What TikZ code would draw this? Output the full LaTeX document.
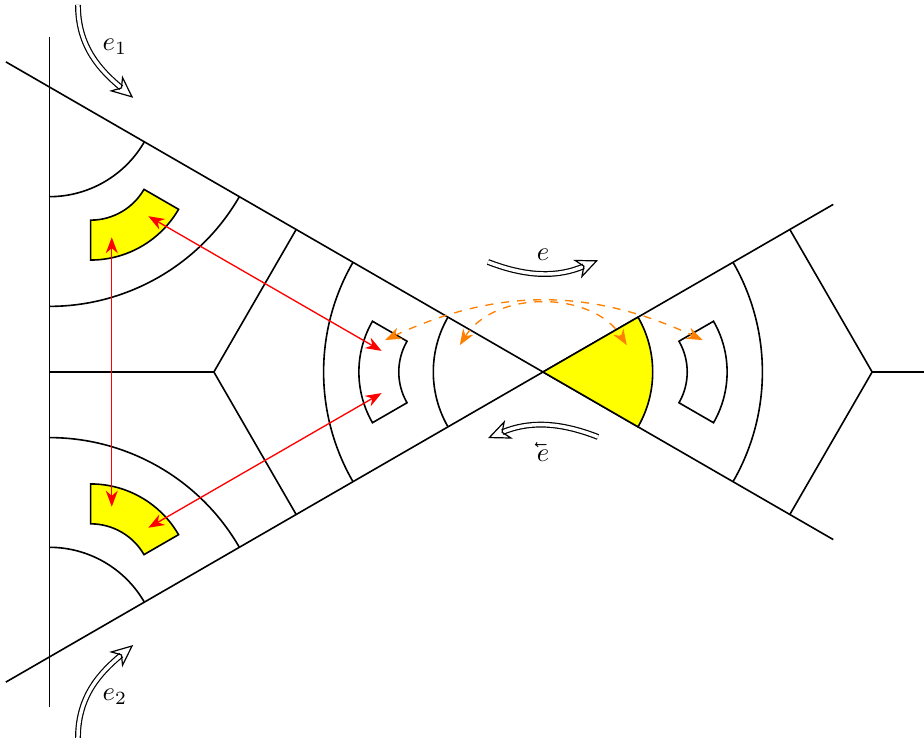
\documentclass[tikz,border=0pt]{standalone}
\usepackage{graphicx}
\usepackage{tikz}
\usetikzlibrary{arrows.meta, calc}
\definecolor{sectorYellow}{RGB}{255,255,0}
\definecolor{swapOrange}{RGB}{255,128,0}

\begin{document}
\begin{tikzpicture}[x=0.75cm, y=0.75cm,
    edge/.style={line width=0.6pt},
    sector/.style={draw, line width=0.6pt},
    link/.style={{Stealth[length=6pt]}-{Stealth[length=6pt]}, red, line width=0.5pt},
    swap/.style={{Stealth[length=6pt]}-{Stealth[length=6pt]}, swapOrange, dashed, line width=0.5pt},
    flow/.style={double, double distance=1.3pt, line width=0.45pt,
                 -{Stealth[open, length=8.5pt, width=7.5pt, inset=2.5pt]}}
  ]
\useasboundingbox (-9.526,-6.51) rectangle (6.684,6.526);
\def\rr{1.9245}

% vertices and centres
\coordinate (O)  at (0,0);
\coordinate (V1) at (-8.66,5);
\coordinate (V2) at (-8.66,-5);
\coordinate (IL) at (-5.774,0);
\coordinate (IR) at (5.774,0);
\coordinate (C1) at (-7.935,3.744);
\coordinate (C2) at (-7.935,-3.744);
\coordinate (C3) at (-1.45,0);
\coordinate (C4) at (1.45,0);

% triangle lines
\draw[edge] (-8.66,5.88) -- (-8.66,-5.88);
\draw[edge] (150:10.88) -- (-30:5.88);
\draw[edge] (210:10.88) -- (30:5.88);
\draw[edge] (-8.66,0) -- (IL) -- (-4.33,2.5);
\draw[edge] (IL) -- (-4.33,-2.5);
\draw[edge] (6.684,0) -- (IR) -- (4.33,2.5);
\draw[edge] (IR) -- (4.33,-2.5);

% arcs
\foreach \c/\a in {V1/-90, V2/30, O/150}
  \foreach \r in {1,2}
    \draw[edge] (\c) ++(\a:\r*\rr) arc[start angle=\a, delta angle=60, radius=\r*\rr];
\draw[edge] (O) ++(-30:2*\rr) arc[start angle=-30, delta angle=60, radius=2*\rr];
\draw[sector, fill=sectorYellow] (O) -- (-30:\rr) arc[start angle=-30, delta angle=60, radius=\rr] -- cycle;

% small sectors
\foreach \c/\a/\col in {C1/-90/sectorYellow, C2/30/sectorYellow, C3/150/white, C4/-30/white}
  \draw[sector, fill=\col] ($(\c)+(\a:1.08)$) arc[start angle=\a, delta angle=60, radius=1.08]
    -- ($(\c)+(\a+60:1.78)$) arc[start angle=\a+60, delta angle=-60, radius=1.78] -- cycle;

% end points
\coordinate (a1) at ($(C1)+(-75:1.43)$);
\coordinate (a2) at ($(C1)+(-45:1.43)$);
\coordinate (b1) at ($(C2)+(75:1.43)$);
\coordinate (b2) at ($(C2)+(45:1.43)$);
\coordinate (c1) at ($(C3)+(165:1.43)$);
\coordinate (c2) at ($(C3)+(195:1.43)$);
\coordinate (q1) at (-2.77,0.56);
\coordinate (q2) at (2.80,0.56);
\coordinate (q3) at (-1.46,0.47);
\coordinate (q4) at (1.47,0.47);

\draw[link] (a1) -- (b1);
\draw[link] (a2) -- (c1);
\draw[link] (b2) -- (c2);
\draw[swap] (q1) to[bend left=25] (q2);
\draw[swap] (q3) to[bend left=58] (q4);

% moves
\coordinate (f1s) at (-8.158,6.44);
\coordinate (f1e) at (-7.19,4.81);
\coordinate (f2s) at (-8.158,-6.42);
\coordinate (f2e) at (-7.19,-4.79);
\coordinate (gs) at (-0.965,1.93);
\coordinate (ge) at (0.965,1.96);
\coordinate (hs) at (0.965,-1.14);
\coordinate (he) at (-0.965,-1.16);
\draw[flow] (f1s) to[out=-90, in=140] (f1e);
\draw[flow] (f2s) to[out=90, in=-140] (f2e);
\draw[flow] (gs) to[bend right=22] (ge);
\draw[flow] (hs) to[bend right=22] (he);
\node (l1) at (-7.51,5.70) {$e_1$};
\node (l2) at (-7.51,-5.70) {$e_2$};
\node (l3) at (0,2.05) {$e$};
\node (l4) at (0,-1.40) {\reflectbox{$\vec{\reflectbox{$e$}}$}};
\end{tikzpicture}
\end{document}
